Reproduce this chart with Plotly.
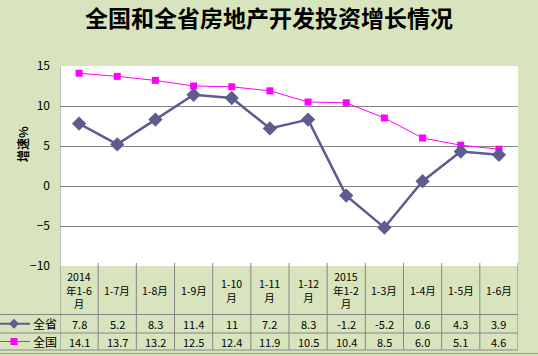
import plotly.graph_objects as go

title = "全国和全省房地产开发投资增长情况"
categories = ["2014<br>年1-6<br>月", "1-7月", "1-8月", "1-9月", "1-10<br>月", "1-11<br>月",
              "1-12<br>月", "2015<br>年1-2<br>月", "1-3月", "1-4月", "1-5月", "1-6月"]
province = [7.8, 5.2, 8.3, 11.4, 11, 7.2, 8.3, -1.2, -5.2, 0.6, 4.3, 3.9]
national = [14.1, 13.7, 13.2, 12.5, 12.4, 11.9, 10.5, 10.4, 8.5, 6.0, 5.1, 4.6]
province_name = "全省"
national_name = "全国"
y_title = "增速%"
y_ticks = [-10, -5, 0, 5, 10, 15]

BG = "#D7E4BD"
GRID = "#868686"
C_PROV = "#5C5C8E"
C_NAT = "#FF00FF"
FONT = "Noto Sans CJK SC"

W, H = 538, 356
L, R, T, B = 60, 20, 66, 90
PW, PH = W - L - R, H - T - B

def px_x(p):
    return (p - L) / PW

def px_y(p):
    return (H - B - p) / PH

n = len(categories)
xs = list(range(n))

fig = go.Figure()
fig.add_trace(go.Scatter(x=xs, y=national, mode="lines+markers", name=national_name,
                         line=dict(color=C_NAT, width=1),
                         marker=dict(symbol="square", size=7, color=C_NAT)))
fig.add_trace(go.Scatter(x=xs, y=province, mode="lines+markers", name=province_name,
                         line=dict(color=C_PROV, width=2.5),
                         marker=dict(symbol="diamond", size=11, color=C_PROV)))

shapes = []
annotations = []

# Row geometry (pixels)
hdr_bot, r1_bot, r2_bot = 314.5, 333, 350
y_hdr = px_y((H - B + hdr_bot) / 2)
y_r1 = px_y((hdr_bot + r1_bot) / 2)
y_r2 = px_y((r1_bot + r2_bot) / 2)

# vertical table lines
for i in range(n + 1):
    shapes.append(dict(type="line", xref="x", yref="paper", x0=i - 0.5, x1=i - 0.5,
                       y0=px_y(r2_bot), y1=(0.015 if i > 0 else 1),
                       line=dict(color=GRID, width=1)))
# horizontal table lines
for yy in [hdr_bot, r1_bot, r2_bot]:
    shapes.append(dict(type="line", xref="paper", yref="paper", x0=px_x(0), x1=1,
                       y0=px_y(yy), y1=px_y(yy), line=dict(color=GRID, width=1)))
shapes.append(dict(type="line", xref="paper", yref="paper", x0=px_x(0), x1=px_x(W),
                   y0=px_y(353.5), y1=px_y(353.5), line=dict(color="#9A9A9A", width=1)))

# legend keys in table
for yc, col, sym in [(y_r1, C_PROV, "diamond"), (y_r2, C_NAT, "square")]:
    shapes.append(dict(type="line", xref="paper", yref="paper", x0=px_x(0), x1=px_x(30),
                       y0=yc, y1=yc, line=dict(color=col, width=2 if sym == "diamond" else 1)))
    cx = px_x(14)
    if sym == "diamond":
        dx, dy = 5 / PW, 5 / PH
        path = f"M {cx - dx} {yc} L {cx} {yc + dy} L {cx + dx} {yc} L {cx} {yc - dy} Z"
        shapes.append(dict(type="path", xref="paper", yref="paper", path=path,
                           fillcolor=col, line=dict(color=col, width=0)))
    else:
        dx, dy = 3.5 / PW, 3.5 / PH
        shapes.append(dict(type="rect", xref="paper", yref="paper", x0=cx - dx, x1=cx + dx,
                           y0=yc - dy, y1=yc + dy, fillcolor=col, line=dict(color=col, width=0)))

annotations.append(dict(text=province_name, xref="paper", yref="paper", x=px_x(31), y=y_r1,
                        xanchor="left", yanchor="middle", showarrow=False,
                        font=dict(family=FONT, size=12, color="black")))
annotations.append(dict(text=national_name, xref="paper", yref="paper", x=px_x(31), y=y_r2,
                        xanchor="left", yanchor="middle", showarrow=False,
                        font=dict(family=FONT, size=12, color="black")))

for i in range(n):
    annotations.append(dict(text=categories[i], xref="x", yref="paper", x=i, y=y_hdr,
                            xanchor="center", yanchor="middle", showarrow=False,
                            font=dict(family=FONT, size=10.5, color="black")))
    annotations.append(dict(text=str(province[i]), xref="x", yref="paper", x=i, y=y_r1,
                            xanchor="center", yanchor="middle", showarrow=False,
                            font=dict(family=FONT, size=11, color="black")))
    annotations.append(dict(text=f"{national[i]:.1f}", xref="x", yref="paper", x=i, y=y_r2,
                            xanchor="center", yanchor="middle", showarrow=False,
                            font=dict(family=FONT, size=11, color="black")))

annotations.append(dict(text=f"<b>{y_title}</b>", xref="paper", yref="paper",
                        x=px_x(22), y=px_y(144), textangle=-90, showarrow=False,
                        xanchor="center", yanchor="middle",
                        font=dict(family=FONT, size=12, color="black")))
annotations.append(dict(text=f"<b>{title}</b>", xref="paper", yref="paper",
                        x=px_x(269), y=px_y(17), showarrow=False,
                        xanchor="center", yanchor="middle",
                        font=dict(family=FONT, size=23, color="black")))

fig.update_layout(
    width=W, height=H, autosize=False,
    margin=dict(l=L, r=R, t=T, b=B, pad=0),
    paper_bgcolor=BG, plot_bgcolor="white",
    showlegend=False,
    shapes=shapes, annotations=annotations,
    xaxis=dict(range=[-0.5, n - 0.5], showticklabels=False, showgrid=False,
               zeroline=False, ticks="", showline=False, fixedrange=True),
    yaxis=dict(range=[-10, 15], tickvals=y_ticks, showgrid=True, gridcolor=GRID, gridwidth=1,
               zeroline=True, zerolinecolor=GRID, zerolinewidth=1, ticks="",
               showline=False, ticklabelstandoff=9,
               tickfont=dict(family=FONT, size=12, color="black"), fixedrange=True),
)

fig.write_html("out.html", config={"displayModeBar": False},
               post_script="document.body.style.margin='0';document.body.style.overflow='hidden';")
